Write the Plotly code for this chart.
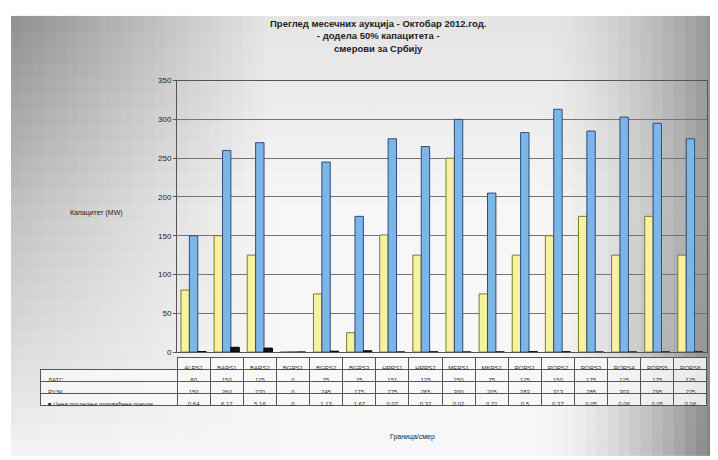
import plotly.graph_objects as go

categories = ["ALRS1", "BARS1", "BARS2", "BGRS1", "BGRS2", "BGRS3", "HRRS1", "HRRS2",
              "MERS1", "MKRS1", "RORS1", "RORS2", "RORS3", "RORS4", "RORS5", "RORS6"]
datc = [80, 150, 125, 0, 75, 25, 151, 125, 250, 75, 125, 150, 175, 125, 175, 125]
ruzk = [150, 260, 270, 0, 245, 175, 275, 265, 300, 205, 283, 313, 285, 303, 295, 275]
price = [0.64, 6.17, 5.16, 0, 1.13, 1.67, 0.07, 0.32, 0.02, 0.21, 0.50, 0.37, 0.05, 0.06, 0.05, 0.06]
row_labels = ["ДАТС", "РУЗК", "■ Цена последње прихваћене понуде"]
yticks = [0, 50, 100, 150, 200, 250, 300, 350]

OFF = 8
W, H = 718 - OFF, 460 - OFF
def px(x):
    return (x - OFF) / W
def py(y):
    return 1 - (y - OFF) / H

fig = go.Figure()
fig.add_trace(go.Bar(x=categories, y=datc, name=row_labels[0],
                     marker=dict(color="#f6f2a2", line=dict(color="#7d7a2e", width=1))))
fig.add_trace(go.Bar(x=categories, y=ruzk, name=row_labels[1],
                     marker=dict(color="#7db6e6", line=dict(color="#2b4d7c", width=1))))
fig.add_trace(go.Bar(x=categories, y=price, name=row_labels[2],
                     marker=dict(color="#111111", line=dict(color="#000000", width=1))))

def fmt(v):
    return f"{v:g}"

cols = [row_labels] + [[fmt(datc[i]), fmt(ruzk[i]), fmt(price[i])] for i in range(len(categories))]
fig.add_trace(go.Table(
    domain=dict(x=[px(40), px(707)], y=[py(410), py(361)]),
    columnwidth=[137] + [33.1] * len(categories),
    header=dict(values=[""] + categories,
                fill=dict(color=["rgba(0,0,0,0)"] + ["rgba(248,248,248,0.85)"] * len(categories)),
                line=dict(color=["rgba(0,0,0,0)"] + ["#555555"] * len(categories), width=1),
                font=dict(family="Arial", size=6, color="#333333"),
                align="center", height=12),
    cells=dict(values=cols,
               fill=dict(color="rgba(248,248,248,0.85)"),
               line=dict(color="#555555", width=1),
               font=dict(family="Arial", size=6, color="#333333"),
               align=["left"] + ["center"] * len(categories), height=12),
))

# background panel: soft grey gradient drawn as a grid of tiles
shapes = []
X0, X1, Y0, Y1 = 11, 718, 12, 460
NX, NY = 64, 28
for i in range(NX):
    xa = X0 + (X1 - X0) * i / NX
    xb = X0 + (X1 - X0) * (i + 1) / NX
    xm = (xa + xb) / 2
    for j in range(NY):
        ya = Y0 + (Y1 - Y0) * j / NY
        yb = Y0 + (Y1 - Y0) * (j + 1) / NY
        ym = (ya + yb) / 2
        left = 85 * max(0.0, 1 - (xm - X0) / 260) * (1 - (ym - Y0) / (Y1 - Y0)) ** 0.8
        right = 120 * max(0.0, (xm - 540) / 178) ** 1.6 * (0.7 + 0.3 * (ym - Y0) / (Y1 - Y0))
        top = 18 * max(0.0, 1 - (ym - Y0) / 200)
        v = int(max(110, min(247, 247 - left - right - top)))
        shapes.append(dict(type="rect", xref="paper", yref="paper",
                           x0=px(xa), x1=px(xb) + 0.0015, y0=py(yb) - 0.002, y1=py(ya),
                           fillcolor=f"rgb({v},{v},{v})", line=dict(width=0), layer="below"))

fig.update_layout(
    width=W, height=H,
    margin=dict(l=0, r=0, t=0, b=0),
    paper_bgcolor="#ffffff",
    plot_bgcolor="rgba(255,255,255,0.55)",
    showlegend=False,
    barmode="group", bargap=0.24, bargroupgap=0.0,
    font=dict(family="Arial", color="#333333"),
    xaxis=dict(domain=[px(177), px(707)], showticklabels=False, ticks="",
               showline=True, linecolor="#555555", mirror=True, showgrid=False),
    yaxis=dict(domain=[py(355), py(78)], range=[0, 350], tickvals=yticks,
               showgrid=True, gridcolor="#747474", gridwidth=1.3,
               showline=True, linecolor="#555555", mirror=True, ticks="outside",
               ticklen=3, tickcolor="#555555",
               tickfont=dict(size=8, color="#222222"), zeroline=False),
    shapes=shapes,
    annotations=[
        dict(text="<b>Преглед месечних аукција - Октобар 2012.год.</b><br><b>- додела 50% капацитета -</b><br><b>смерови за Србију</b>",
             xref="paper", yref="paper", x=px(378), y=py(32), xanchor="center", yanchor="middle",
             showarrow=False, font=dict(size=9.5, color="#222222")),
        dict(text="Капацитет (MW)", xref="paper", yref="paper", x=px(96), y=py(213),
             xanchor="center", yanchor="middle", showarrow=False, font=dict(size=7, color="#222222")),
        dict(text="Граница/смер", xref="paper", yref="paper", x=px(412), y=py(442),
             xanchor="center", yanchor="middle", showarrow=False, font=dict(size=7, color="#222222")),
    ],
)

fig.write_html("out.html")
